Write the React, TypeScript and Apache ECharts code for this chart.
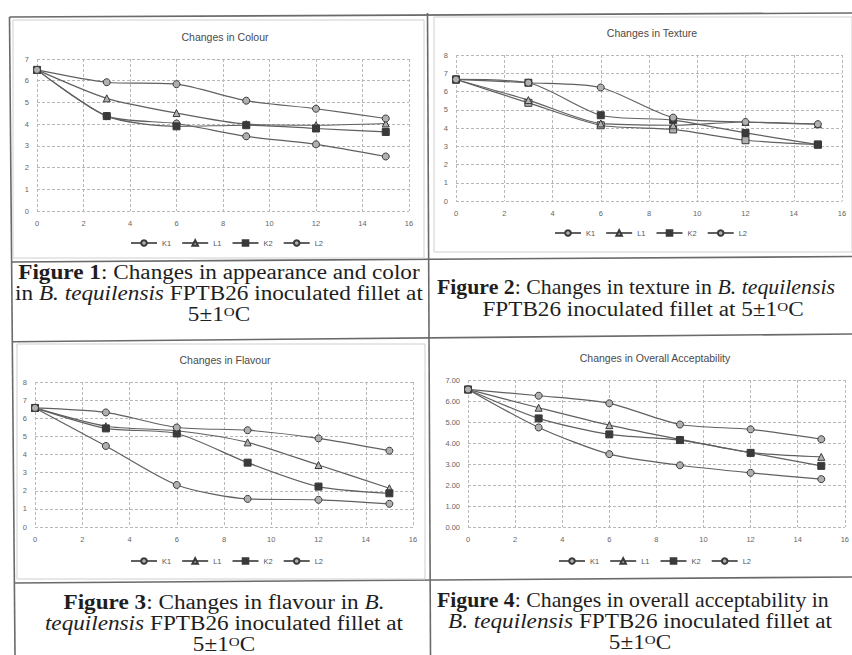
import React, { useEffect, useRef } from 'react';
import * as echarts from 'echarts';

const days = [0, 3, 6, 9, 12, 15];
const seriesNames = ['K1', 'L1', 'K2', 'L2'];

// Changes in Colour
const colourK1 = [6.5, 4.37, 4.03, 3.44, 3.07, 2.51];
const colourL1 = [6.5, 5.19, 4.51, 4.0, 3.95, 4.03];
const colourK2 = [6.5, 4.37, 3.9, 3.95, 3.8, 3.64];
const colourL2 = [6.5, 5.93, 5.84, 5.08, 4.71, 4.26];

// Changes in Texture
const textureK1 = [6.66, 5.38, 4.15, 3.92, 3.33, 3.09];
const textureL1 = [6.66, 5.53, 4.25, 4.15, 4.33, 4.21];
const textureK2 = [6.66, 6.48, 4.7, 4.43, 3.73, 3.09];
const textureL2 = [6.66, 6.48, 6.22, 4.57, 4.33, 4.21];

// Changes in Flavour
const flavourK1 = [6.57, 4.47, 2.32, 1.55, 1.5, 1.28];
const flavourL1 = [6.57, 5.56, 5.31, 4.67, 3.42, 2.14];
const flavourK2 = [6.57, 5.44, 5.16, 3.55, 2.23, 1.86];
const flavourL2 = [6.57, 6.32, 5.49, 5.34, 4.89, 4.21];

// Changes in Overall Acceptability
const accK1 = [6.55, 4.74, 3.47, 2.94, 2.58, 2.28];
const accL1 = [6.55, 5.68, 4.85, 4.17, 3.55, 3.34];
const accK2 = [6.55, 5.17, 4.41, 4.14, 3.53, 2.91];
const accL2 = [6.55, 6.25, 5.89, 4.88, 4.65, 4.18];

const chartTitles = [
  'Changes in Colour',
  'Changes in Texture',
  'Changes in Flavour',
  'Changes in Overall Acceptability',
];
const yMaxes = [7, 8, 8, 7];
const yDecimals = [0, 0, 0, 2];
const xMax = 16;
const xStep = 2;

const panelData = [
  [colourK1, colourL1, colourK2, colourL2],
  [textureK1, textureL1, textureK2, textureL2],
  [flavourK1, flavourL1, flavourK2, flavourL2],
  [accK1, accL1, accK2, accL2],
];

const panelSymbols = [
  ['circle', 'triangle', 'rect', 'circle'],
  ['rect', 'triangle', 'rect', 'circle'],
  ['circle', 'triangle', 'rect', 'circle'],
  ['circle', 'triangle', 'rect', 'circle'],
];

const captionLines = [
  ['{b|Figure 1}: Changes in appearance and color', 'in {i|B. tequilensis} FPTB26 inoculated fillet at', '5±1{s|O}C'],
  ['{b|Figure 2}: Changes in texture in {i|B. tequilensis}', 'FPTB26 inoculated fillet at 5±1{s|O}C'],
  ['{b|Figure 3}: Changes in flavour in {i|B.}', '{i|tequilensis} FPTB26 inoculated fillet at', '5±1{s|O}C'],
  ['{b|Figure 4}: Changes in overall acceptability in', '{i|B. tequilensis} FPTB26 inoculated fillet at', '5±1{s|O}C'],
];

// layout
const grids = [
  { left: 37, top: 59, width: 372, height: 152 },
  { left: 456, top: 55, width: 386, height: 146 },
  { left: 35, top: 382, width: 378, height: 145 },
  { left: 468, top: 380, width: 380, height: 147 },
];
const titlePos = [
  [220, 26],
  [647, 22],
  [220, 349],
  [650, 347],
];
const legendPos = [
  [222, 234],
  [646, 224],
  [222, 552],
  [650, 552],
];
const captionPos = [
  { x: 219, ys: [273, 294, 315], align: 'center' },
  { x: 437, ys: [287, 310], align: 'left', x2: 643 },
  { x: 224, ys: [603, 624, 645], align: 'center' },
  { x: 437, ys: [600, 622, 643], align: 'left', x2: 640 },
];

const serif = '"Liberation Serif", "Times New Roman", serif';
const sans = '"Liberation Sans", Arial, sans-serif';

export default function App() {
  const ref = useRef<HTMLDivElement>(null);
  useEffect(() => {
    if (!ref.current) return;
    const chart = echarts.init(ref.current, null, { renderer: 'svg' });

    const series: any[] = [];
    panelData.forEach((sets, p) => {
      sets.forEach((vals, i) => {
        const sym = panelSymbols[p][i];
        series.push({
          type: 'line',
          name: seriesNames[i],
          xAxisIndex: p,
          yAxisIndex: p,
          data: days.map((d, j) => [d, vals[j]]),
          smooth: 0.25,
          symbol: sym,
          symbolSize: 7,
          showSymbol: true,
          lineStyle: { color: '#606060', width: 1.2 },
          itemStyle: {
            color: i === 2 ? '#3a3a3a' : '#b0b0b0',
            borderColor: '#3a3a3a',
            borderWidth: 1,
          },
          emphasis: { disabled: true },
        });
      });
    });

    const splitLine = { show: true, lineStyle: { color: '#b8b8b8', type: [3, 2], width: 1 } };
    const axisLabel = { fontSize: 7.5, color: '#666', fontFamily: sans };

    const graphics: any[] = [];
    const lineStyle = { stroke: '#6a6a6a', lineWidth: 1.6 };
    const seg = (x1: number, y1: number, x2: number, y2: number, s: any = lineStyle) =>
      graphics.push({ type: 'line', shape: { x1, y1, x2, y2 }, style: s, silent: true });
    seg(9.5, 17, 852, 13);
    seg(9.5, 17, 15, 655);
    seg(427.5, 13, 430.5, 655);
    seg(12, 262, 852, 256.5);
    seg(12.5, 341.7, 852, 334);
    seg(14, 583, 852, 577);
    const faint = { stroke: '#cfcfcf', lineWidth: 1, fill: 'none' };
    graphics.push({ type: 'rect', shape: { x: 13, y: 20, width: 411, height: 238 }, style: faint, silent: true });
    graphics.push({ type: 'rect', shape: { x: 434, y: 17, width: 418, height: 235 }, style: faint, silent: true });
    graphics.push({ type: 'rect', shape: { x: 17, y: 344, width: 408, height: 235 }, style: faint, silent: true });

    const fs = 20;
    const rich = {
      b: { fontFamily: serif, fontSize: fs, fontWeight: 'bold', fill: '#1e1e1e' },
      i: { fontFamily: serif, fontSize: fs, fontStyle: 'italic', fill: '#1e1e1e' },
      s: { fontFamily: serif, fontSize: 13, fill: '#1e1e1e', verticalAlign: 'top' },
    };
    captionLines.forEach((lines, p) => {
      const pos: any = captionPos[p];
      lines.forEach((t, k) => {
        const isLeft = pos.align === 'left' && k === 0;
        graphics.push({
          type: 'text',
          x: isLeft ? pos.x : pos.x2 ?? pos.x,
          y: pos.ys[k],
          scaleX: isLeft ? 1.09 : 1.16,
          silent: true,
          style: {
            text: t,
            rich,
            fontFamily: serif,
            fontSize: fs,
            fill: '#1e1e1e',
            align: isLeft ? 'left' : 'center',
            verticalAlign: 'middle',
          },
        });
      });
    });

    chart.setOption({
      animation: false,
      backgroundColor: '#ffffff',
      title: chartTitles.map((t, p) => ({
        text: t,
        left: titlePos[p][0],
        top: titlePos[p][1],
        textAlign: 'center',
        textStyle: { fontSize: 10.5, fontWeight: 'normal', color: '#4a4a4a', fontFamily: sans },
      })),
      legend: legendPos.map((lp) => ({
        data: seriesNames,
        left: lp[0] - 97,
        top: lp[1],
        orient: 'horizontal',
        itemWidth: 26,
        itemHeight: 7,
        itemGap: 10,
        textStyle: { fontSize: 7.5, color: '#555', fontFamily: sans },
        selectedMode: false,
      })),
      grid: grids.map((g) => ({ ...g, containLabel: false })),
      xAxis: grids.map((_, p) => ({
        type: 'value',
        gridIndex: p,
        min: 0,
        max: xMax,
        interval: xStep,
        axisLine: { show: false },
        axisTick: { show: false },
        splitLine,
        axisLabel: { ...axisLabel, margin: 8 },
      })),
      yAxis: grids.map((_, p) => ({
        type: 'value',
        gridIndex: p,
        min: 0,
        max: yMaxes[p],
        interval: 1,
        axisLine: { show: false },
        axisTick: { show: false },
        splitLine,
        axisLabel: {
          ...axisLabel,
          margin: 8,
          formatter: (v: number) => v.toFixed(yDecimals[p]),
        },
      })),
      series,
      graphic: graphics,
    });
    return () => chart.dispose();
  }, []);
  return (
    <div
      ref={ref}
      style={{ position: 'fixed', left: 0, top: 0, width: 852, height: 655, background: '#fff' }}
    />
  );
}
